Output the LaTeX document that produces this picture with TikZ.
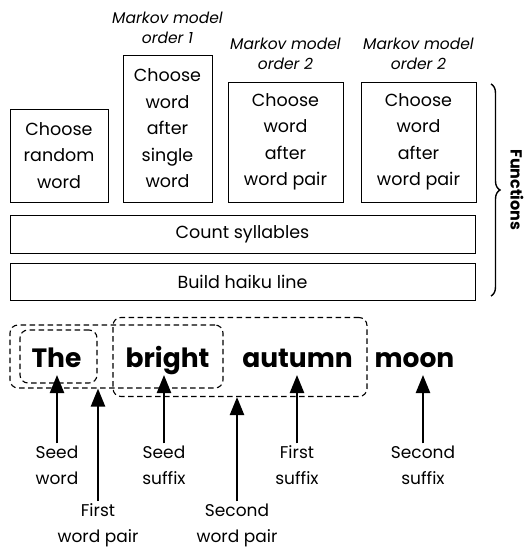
\documentclass[tikz,border=0pt]{standalone}
\usepackage{fontspec}
\setmainfont{Poppins}
\usetikzlibrary{arrows.meta,decorations.pathreplacing}
\begin{document}
\begin{tikzpicture}[x=1pt,y=-1pt,
  fbox/.style={draw, line width=0.9pt, align=center, inner sep=0pt,
    font=\fontsize{17.5}{26.5}\selectfont},
  mlabel/.style={align=center, inner sep=0pt, font=\fontsize{15.5}{20}\selectfont\itshape},
  word/.style={inner sep=0pt, text depth=0pt, font=\fontsize{26.5}{30}\selectfont\bfseries},
  wlabel/.style={align=center, inner sep=2pt, font=\fontsize{17}{26}\selectfont},
  dbox/.style={draw=black, dash pattern=on 5.5pt off 3.5pt, line width=1.1pt, rounded corners=8pt, inner sep=0pt},
  arr/.style={draw=black, line width=2.4pt, -{Triangle[width=14pt,length=18pt]}}]
\useasboundingbox (0,0) rectangle (526,552);

% function boxes
\node[fbox, minimum width=98pt, minimum height=93pt] (b1) at (59,155.5) {Choose\\random\\word};
\node[fbox, minimum width=89pt, minimum height=147pt] (b2) at (167.5,128.5) {Choose\\word\\after\\single\\word};
\node[fbox, minimum width=115pt, minimum height=120pt] (b3) at (285.5,142) {Choose\\word\\after\\word pair};
\node[fbox, minimum width=115pt, minimum height=120pt] (b4) at (418.5,142) {Choose\\word\\after\\word pair};
\node[fbox, minimum width=465pt, minimum height=38pt] (cs) at (242.5,234) {Count syllables};
\node[fbox, minimum width=465pt, minimum height=37pt] (bh) at (242.5,281.5) {Build haiku line};

\node[mlabel] (m1) at (167.5,28) {Markov model\\order 1};
\node[mlabel] (m2) at (285.5,54) {Markov model\\order 2};
\node[mlabel] (m3) at (418.5,54) {Markov model\\order 2};

% brace
\coordinate (bt) at (491,84);
\coordinate (bb) at (491,296);
\draw[line width=1.4pt, decorate, decoration={brace, amplitude=9pt}] (bt) -- (bb);
\node[rotate=-90, inner sep=0pt, font=\fontsize{16}{18}\selectfont\bfseries] (fn) at (517,190) {Functions};

% words
\node[word, anchor=base] (the) at (56.5,367) {The};
\node[word, anchor=base] (bright) at (167.5,367) {bright};
\node[word, anchor=base] (autumn) at (297.5,367) {autumn};
\node[word, anchor=base] (moon) at (414.5,367) {moon};

% dashed groups
\node[dbox, minimum width=77pt, minimum height=53pt] (gthe) at (58.5,356.5) {};
\node[dbox, minimum width=213pt, minimum height=63pt] (gp1) at (116.5,356.5) {};
\node[dbox, minimum width=254pt, minimum height=79pt] (gp2) at (240,357) {};

% labels
\node[wlabel] (lsw) at (57,465) {Seed\\word};
\node[wlabel] (lfp) at (98,525) {First\\word pair};
\node[wlabel] (lss) at (164,465) {Seed\\suffix};
\node[wlabel] (lsp) at (237,525) {Second\\word pair};
\node[wlabel] (lfs) at (297,465) {First\\suffix};
\node[wlabel] (lsx) at (423,465) {Second\\suffix};

% arrows
\coordinate (tip) at (0,375);
\draw[arr] (lsw.north) -- (lsw.north |- tip);
\draw[arr] (lss.north) -- (lss.north |- tip);
\draw[arr] (lfs.north) -- (lfs.north |- tip);
\draw[arr] (lsx.north) -- (lsx.north |- tip);
\draw[arr] (lfp.north) -- (lfp.north |- gp1.south);
\draw[arr] (lsp.north) -- (lsp.north |- gp2.south);
\end{tikzpicture}
\end{document}
